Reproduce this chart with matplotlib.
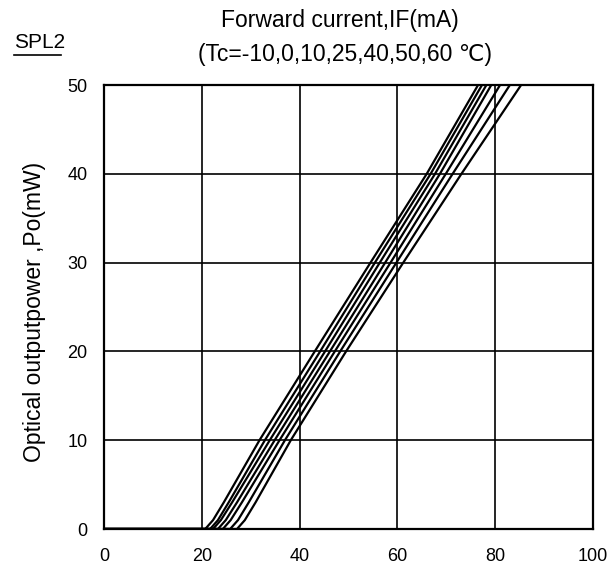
import matplotlib.pyplot as plt
from matplotlib.lines import Line2D

plt.rcParams['font.family'] = ['Liberation Sans', 'DejaVu Sans']

## Data
## ====
temps = [-10, 0, 10, 25, 40, 50, 60]

# optical power levels (mW) and the forward current (mA) at which each curve reaches them
power = [0, 0, 1, 3, 10, 20, 30, 40, 50]

current_m10 = [0, 20.7, 22.3, 24.5, 31.8, 43.1, 54.5, 66.0, 76.5]
current_0 = [0, 21.7, 23.3, 25.5, 32.9, 44.2, 55.4, 66.8, 77.3]
current_10 = [0, 22.3, 23.9, 26.2, 33.9, 45.2, 56.4, 67.7, 78.2]
current_25 = [0, 23.3, 24.9, 27.2, 34.9, 46.2, 57.5, 68.7, 79.2]
current_40 = [0, 24.3, 25.9, 28.2, 35.9, 47.2, 58.6, 69.9, 81.0]
current_50 = [0, 25.8, 27.4, 29.6, 37.0, 48.3, 59.8, 71.3, 83.0]
current_60 = [0, 27.2, 28.8, 31.0, 38.2, 49.5, 61.2, 73.1, 85.3]

curves = [current_m10, current_0, current_10, current_25, current_40, current_50, current_60]

x_ticks = [0, 20, 40, 60, 80, 100]
y_ticks = [0, 10, 20, 30, 40, 50]

## Draw
## ====
W, H = 614, 568
fig = plt.figure(figsize=(W / 100, H / 100), dpi=100)
ax = fig.add_axes([104 / W, 39 / H, 489 / W, 444 / H])

for cur in curves:
    ax.plot(cur, power, color='black', lw=1.6, solid_capstyle='butt', zorder=3)

ax.set_xlim(0, 100)
ax.set_ylim(0, 50)
ax.set_xticks(x_ticks)
ax.set_yticks(y_ticks)
ax.tick_params(length=0, labelsize=13, pad=14)
ax.tick_params(axis='y', pad=12)
ax.grid(True, color='black', lw=1.2)
for s in ax.spines.values():
    s.set_linewidth(1.6)

# axis titles
fig.text(35 / W, 1 - 312 / H, 'Optical outputpower ,Po(mW)', rotation=90,
         ha='center', va='center', fontsize=16.5)

temp_str = ','.join(str(t) for t in temps)
fig.text(340 / W, 1 - 20 / H, 'Forward current,IF(mA)', ha='center', va='center', fontsize=16.5)
fig.text(345 / W, 1 - 55 / H, '(Tc=' + temp_str + ' \u2103)', ha='center', va='center', fontsize=16.5)

fig.text(14 / W, 1 - 42 / H, 'SPL2', ha='left', va='center', fontsize=15)
fig.lines.append(Line2D([14 / W, 61 / W], [1 - 55 / H, 1 - 55 / H],
                        transform=fig.transFigure, color='black', lw=1.2))

plt.savefig('out.png', dpi=100)
